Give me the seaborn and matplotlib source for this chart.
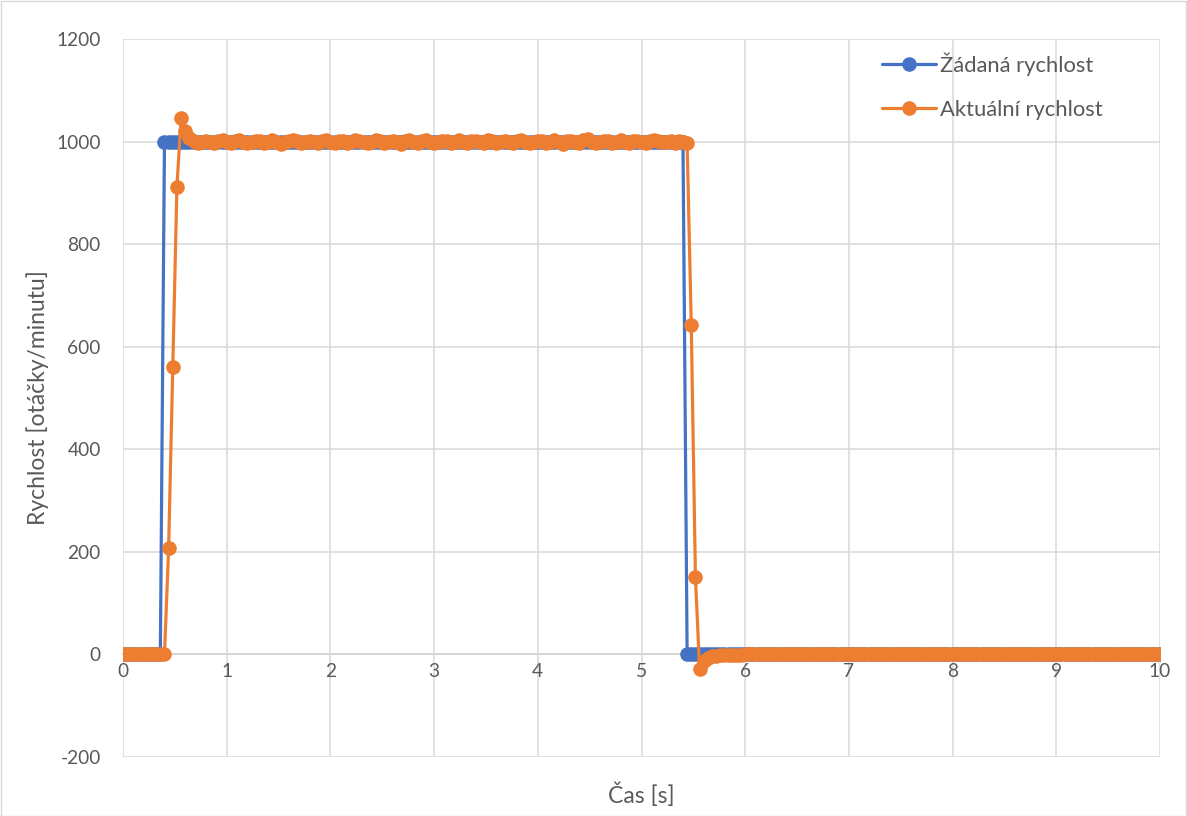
import numpy as np
import pandas as pd
import matplotlib
matplotlib.use("Agg")
import matplotlib.pyplot as plt
from matplotlib.patches import Rectangle
import seaborn as sns

# Sampling instants of the logged run [s]
time_s = np.round(np.arange(251) * 0.04, 2)

# Setpoint speed: off, step to 1000 rpm at 0.40 s, back to 0 at 5.44 s
setpoint_rpm = [0] * 10 + [1000] * 126 + [0] * 115

# Measured speed
actual_start = [0] * 11
actual_rise = [207, 560, 912, 1045, 1020]
actual_hold = [
    1006, 1001, 998, 1000, 1002, 999, 997, 1001, 1003, 1000, 998, 1002, 1004, 1000, 997, 999, 1002, 1001, 998, 1000,
    1003, 999, 996, 1000, 1002, 1004, 1001, 998, 999, 1002, 1000, 997, 1001, 1003, 999, 998, 1002, 1001, 997, 1000,
    1004, 1002, 999, 997, 1000, 1003, 1001, 998, 1000, 1002, 999, 996, 1001, 1003, 1000, 998, 1002, 1004, 999, 997,
    1000, 1002, 1001, 998, 999, 1003, 1000, 997, 1001, 1002, 999, 998, 1003, 1001, 997, 1000, 1002, 999, 998, 1001,
    1004, 1000, 997, 999, 1002, 1001, 998, 1000, 1003, 999, 996, 1001, 1002, 1000, 998, 1003, 1005, 1000, 997, 999,
    1002, 1001, 998, 1000, 1003, 999, 997, 1001, 1002, 1000, 998, 1002, 1003, 1001, 999, 1000, 1002, 998, 1001, 1000,
    997,
]
actual_fall = [642, 151, -28]
actual_settle = [-12, -6, -4, -3, -2, -2, -1, -1, -1, -1]
actual_tail = [0] * 101
actual_rpm = actual_start + actual_rise + actual_hold + actual_fall + actual_settle + actual_tail

series_names = ["Žádaná rychlost", "Aktuální rychlost"]
series_colors = ["#4472C4", "#ED7D31"]

x_ticks = list(range(0, 11))
y_ticks = list(range(-200, 1201, 200))

df = pd.concat([
    pd.DataFrame({"t": time_s, "v": setpoint_rpm, "s": series_names[0]}),
    pd.DataFrame({"t": time_s, "v": actual_rpm, "s": series_names[1]}),
], ignore_index=True)

sns.set_theme(style="white")
plt.rcParams["font.family"] = ["Lato", "DejaVu Sans"]

W, H = 1187, 816
fig = plt.figure(figsize=(W / 100, H / 100), dpi=100)
ax = fig.add_axes([123 / W, (H - 757) / H, (1160 - 123) / W, (757 - 39) / H])

sns.lineplot(
    data=df, x="t", y="v", hue="s", hue_order=series_names,
    palette=series_colors, marker="o", markersize=10.5, markeredgewidth=0,
    linewidth=2.3, estimator=None, sort=False, ax=ax,
)

ax.set_xlim(0, 10)
ax.set_ylim(-200, 1200)
ax.set_xticks(x_ticks)
ax.set_yticks(y_ticks)
ax.set_xticklabels([str(v) for v in x_ticks])
ax.set_yticklabels([str(v) for v in y_ticks])
ax.grid(True, color="#d9d9d9", linewidth=1.1)
ax.set_axisbelow(True)
for side in ["top", "right", "left"]:
    ax.spines[side].set_visible(False)
ax.spines["bottom"].set_position(("data", 0))
ax.spines["bottom"].set_color("#bfbfbf")
ax.spines["bottom"].set_linewidth(1.1)
ax.spines["bottom"].set_zorder(0.5)
ax.tick_params(axis="both", length=0, labelsize=13.8, labelcolor="#595959")
ax.tick_params(axis="y", pad=16)
ax.tick_params(axis="x", pad=6)
ax.set_xlabel("")
ax.set_ylabel("")

fig.text(38 / W, 1 - 398 / H, "Rychlost [otáčky/minutu]", rotation=90,
         ha="center", va="center", fontsize=16.5, color="#595959")
fig.text(641 / W, 1 - 795 / H, "Čas [s]", ha="center", va="center",
         fontsize=16.5, color="#595959")

leg = ax.legend(loc="upper left", bbox_to_anchor=(882 / W, 1 - 52 / H),
                bbox_transform=fig.transFigure, frameon=False,
                fontsize=15.8, handlelength=2.45, handletextpad=0.2,
                labelspacing=1.12, borderpad=0, borderaxespad=0)
for txt in leg.get_texts():
    txt.set_color("#595959")

fig.patches.append(Rectangle((0.5 / W, 0.5 / H), 1 - 1.5 / W, 1 - 1.5 / H,
                             transform=fig.transFigure, fill=False,
                             edgecolor="#d9d9d9", linewidth=1))

fig.savefig("out.png", dpi=100, facecolor="white")
